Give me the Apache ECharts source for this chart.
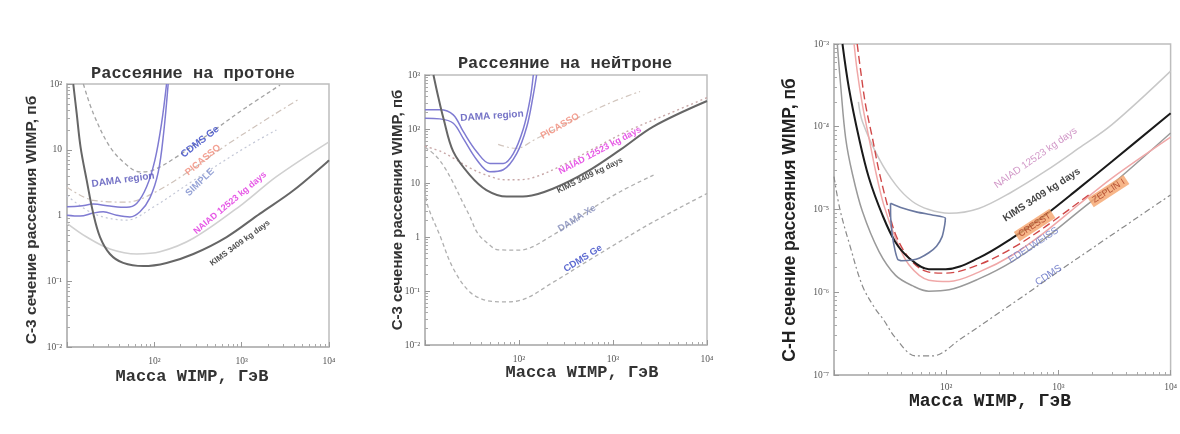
<!DOCTYPE html>
<html><head><meta charset="utf-8">
<script src="https://cdn.jsdelivr.net/npm/echarts@6/dist/echarts.min.js"></script>
<style>html,body{margin:0;padding:0;background:#fff}#c{width:1180px;height:434px}</style>
</head><body><div id="c"></div><script>
// ---------- tick labels ----------
const X_TICK_LABELS = ['', '10²', '10³', '10⁴'];                 // exponents 1..4
const P1_Y_TICK_LABELS = ['10⁻²', '10⁻¹', '1', '10', '10²'];      // -2..2
const P2_Y_TICK_LABELS = ['10⁻²', '10⁻¹', '1', '10', '10²', '10³']; // -2..3
const P3_Y_TICK_LABELS = ['10⁻⁷', '10⁻⁶', '10⁻⁵', '10⁻⁴', '10⁻³']; // -7..-3

// ---------- panel 1: scattering on proton [mass GeV, cross-section pb] ----------
const P1_KIMS = [[11.8,100],[12.9,36],[14.3,11],[16.8,3.45],[20,1.07],[23.9,0.47],[31,0.26],[44,0.19],[75,0.17],[138,0.19],[280,0.26],[673,0.47],[1622,1.07],[3900,2.4],[10000,6.9]];
const P1_NAIAD = [[10,0.76],[16.8,0.47],[31,0.31],[63,0.26],[116,0.28],[280,0.45],[1040,1.52],[2500,3.9],[10000,13.2]];
const P1_CDMS_GE = [[15.4,100],[20,35.7],[31,11.1],[48,5.9],[68,4.6],[97,4.9],[180,7.8],[430,17.7],[1150,45],[2750,96]];
const P1_PICASSO = [[10,2.7],[20,1.7],[48,1.6],[98,2.2],[280,5.2],[670,11.8],[2300,33.7],[4650,60]];
const P1_SIMPLE = [[10,2.0],[20,1.07],[48,0.85],[98,1.35],[280,3.4],[1140,11.1],[2500,20]];
const P1_DAMA_A = [[10,1.36],[14.1,1.39],[20,1.49],[31,1.39],[48,1.33],[62.7,1.52],[81.6,2.73],[101.5,6.96],[121,25.2],[138,100]];
const P1_DAMA_B = [[10,1.01],[14.1,0.98],[20,1.09],[26,1.14],[37,1.01],[52.5,0.95],[68.5,1.14],[89,1.85],[111,4.6],[128,18.3],[144,100]];
const P1_LABEL_TEXT = ['CDMS Ge', 'PICASSO', 'SIMPLE', 'DAMA region', 'NAIAD 12523 kg days', 'KIMS 3409 kg days'];
const P1_LABEL_AT = [[334,13.2],[361,7.0],[333,3.2],[43.8,3.47],[736,1.55],[957,0.38]];

// ---------- panel 2: scattering on neutron ----------
const P2_KIMS = [[12.3,1000],[13.8,400],[15.7,158],[20,38],[30,14],[45,7.4],[74,5.6],[121,5.7],[232,7.9],[524,16],[1190,41],[2680,111],[10000,330]];
const P2_NAIAD = [[10,48],[15,38],[20,29],[30,19],[45,14],[70,11.5],[100,11.5],[150,13],[300,22],[600,42],[1500,95],[4000,195],[10000,380]];
const P2_PICASSO = [[60,52],[80,45],[94.5,44],[150,65],[349,138],[1000,320],[1940,496]];
const P2_DAMA_XE = [[10,46],[13,32],[16,20],[20,10],[25,4.5],[30,2.4],[36,1.2],[45,0.8],[60,0.58],[100,0.57],[232,1.1],[525,2.9],[1190,6.9],[2700,14]];
const P2_CDMS_GE = [[10,10],[10.4,4.5],[14.4,1.07],[20,0.26],[30,0.096],[45,0.067],[68,0.063],[103,0.067],[232,0.146],[525,0.35],[1190,0.83],[2680,1.9],[10000,6.4]];
const P2_DAMA_A = [[10,227],[14.4,227],[20,183],[25.5,90],[35.5,38],[49,23],[68,23],[87,35],[111,100],[131,350],[142,1000]];
const P2_DAMA_B = [[10,158],[14.4,154],[20,128],[25.5,67],[35.5,27],[49,16.2],[68,17.6],[94.5,35],[121,110],[142,430],[154,1000]];
const P2_LABEL_TEXT = ['DAMA region', 'PICASSO', 'NAIAD 12523 kg days', 'KIMS 3409 kg days', 'DAMA Xe', 'CDMS Ge'];
const P2_LABEL_AT = [[51.6,173],[273,113],[728,40],[569,13.8],[414,2.2],[479,0.4]];

// ---------- panel 3: spin-independent ----------
const P3_KIMS = [[11.9,1e-3],[13.6,2.9e-4],[16.7,7.3e-5],[20.5,2.4e-5],[27,8.6e-6],[35,4.1e-6],[46.5,2.6e-6],[70,1.9e-6],[99,1.9e-6],[195,2.6e-6],[387,4.5e-6],[766,8.6e-6],[1520,1.8e-5],[3000,3.8e-5],[10000,1.46e-4]];
const P3_NAIAD = [[16.5,2.0e-4],[17.9,1.16e-4],[25,4.2e-5],[35.4,2.0e-5],[50,1.25e-5],[70,1.0e-5],[106,9.0e-6],[195,1.03e-5],[387,1.64e-5],[766,2.9e-5],[1520,5.5e-5],[3000,1.06e-4],[10000,4.7e-4]];
const P3_ZEPLIN = [[16.1,1e-3],[17.3,4.7e-4],[19.1,1.85e-4],[22,7.3e-5],[25.2,2.9e-5],[29.9,1.13e-5],[35.4,5.0e-6],[46.5,2.6e-6],[65.5,1.8e-6],[98,1.7e-6],[195,2.15e-6],[387,3.4e-6],[766,6.2e-6],[1860,1.5e-5]];
const P3_CRESST = [[15.1,1e-3],[16.1,4.7e-4],[17.9,1.85e-4],[20.5,7.3e-5],[23.5,2.9e-5],[27.8,1.13e-5],[35.4,4.5e-6],[46.5,2.15e-6],[70,1.4e-6],[106,1.35e-6],[195,1.75e-6],[387,2.8e-6],[766,5.4e-6],[1520,1.15e-5],[3000,2.4e-5],[10000,7.5e-5]];
const P3_EDELWEISS = [[10.7,1e-3],[11.5,3e-4],[12.7,7.3e-5],[14.5,2.8e-5],[17.9,9.5e-6],[25.2,3.1e-6],[35.4,1.6e-6],[50,1.2e-6],[70,1.03e-6],[106,1.07e-6],[195,1.45e-6],[387,2.35e-6],[766,4.5e-6],[1520,9.5e-6],[3000,2.0e-5],[10000,8.4e-5]];
const P3_CDMS = [[10,2.5e-5],[11.3,1e-5],[14,3.5e-6],[17.9,1.2e-6],[23,6.5e-7],[27.8,4.6e-7],[35.4,2.8e-7],[53.6,1.7e-7],[75,1.7e-7],[138,2.8e-7],[276,5.3e-7],[545,1.0e-6],[1070,1.9e-6],[2130,3.6e-6],[10000,1.5e-5]];
const P3_DAMA = [[31.9,1.19e-5],[40,1.05e-5],[55,9.3e-6],[75,8.6e-6],[98.3,7.9e-6],[97,6.5e-6],[92,4.7e-6],[82,3.6e-6],[70,3.0e-6],[58,2.6e-6],[49.8,2.45e-6],[40,2.4e-6],[37,2.5e-6],[35,3.2e-6],[33,5e-6],[32,8e-6],[31.9,1.19e-5]];
const P3_LABEL_TEXT = ['NAIAD 12523 kg days', 'KIMS 3409 kg days', 'CRESST', 'EDELWEISS', 'ZEPLIN I', 'CDMS'];
const P3_LABEL_AT = [[627,4.2e-5],[709,1.5e-5],[614,6.5e-6],[600,3.7e-6],[2800,1.67e-5],[818,1.6e-6]];

// ---------- texts ----------
const TITLES = ['Рассеяние на протоне', 'Рассеяние на нейтроне'];
const X_NAME = 'Масса WIMP, ГэВ';
const Y_NAMES = ['С-3 сечение рассеяния WIMP, пб', 'С-3 сечение рассеяния WIMP, пб', 'С-Н сечение рассеяния WIMP, пб'];

// ---------- build ----------
const exp10 = v => Math.round(Math.log10(v));
function xAxis(i, margin) {
  return {
    type: 'log', logBase: 10, gridIndex: i, min: 10, max: 10000,
    axisLine: { show: true, lineStyle: { color: '#b4b4b4', width: 1.5 } },
    axisTick: { show: true, inside: true, length: 5, lineStyle: { color: '#999' } },
    minorTick: { show: true, splitNumber: 9, length: 3, lineStyle: { color: '#aaa' } },
    splitLine: { show: false },
    axisLabel: { margin: margin, fontSize: 9.5, color: '#555', fontFamily: 'Liberation Serif',
      formatter: v => X_TICK_LABELS[exp10(v) - 1] }
  };
}
function yAxis(i, min, max, labels, minExp) {
  return {
    type: 'log', logBase: 10, gridIndex: i, min: min, max: max,
    axisLine: { show: true, lineStyle: { color: '#b4b4b4', width: 1.5 } },
    axisTick: { show: true, inside: true, length: 5, lineStyle: { color: '#999' } },
    minorTick: { show: true, splitNumber: 9, length: 3, lineStyle: { color: '#aaa' } },
    splitLine: { show: false },
    axisLabel: { margin: 5, fontSize: 9.5, color: '#555', fontFamily: 'Liberation Serif',
      formatter: v => labels[exp10(v) - minExp] }
  };
}
function line(i, data, color, width, type, z) {
  return { type: 'line', xAxisIndex: i, yAxisIndex: i, data: data, showSymbol: false, symbol: 'none',
    smooth: 0.35, clip: true, z: z || 2, silent: true,
    lineStyle: { color: color, width: width, type: type || 'solid' } };
}
function labels(i, at, texts, styles) {
  return { type: 'scatter', xAxisIndex: i, yAxisIndex: i, symbolSize: 0, silent: true, z: 10,
    data: at.map((p, k) => ({ value: p, label: Object.assign({ show: true, position: 'inside',
      formatter: texts[k], fontFamily: 'Liberation Sans' }, styles[k]) })) };
}
const P1_LABEL_STYLE = [
  { color: '#3445c4', fontSize: 10, fontWeight: 'bold', rotate: 38 },
  { color: '#f08a78', fontSize: 9.5, fontWeight: 'bold', rotate: 40 },
  { color: '#7c8ccc', fontSize: 9.5, fontWeight: 'bold', rotate: 44 },
  { color: '#5350b8', fontSize: 10, fontWeight: 'bold', rotate: 8 },
  { color: '#e030e0', fontSize: 9, fontWeight: 'bold', rotate: 40 },
  { color: '#222', fontSize: 8, fontWeight: 'bold', rotate: 36 }
];
const P2_LABEL_STYLE = [
  { color: '#5350b8', fontSize: 10, fontWeight: 'bold', rotate: 4 },
  { color: '#f08a78', fontSize: 9.5, fontWeight: 'bold', rotate: 30 },
  { color: '#e030e0', fontSize: 9, fontWeight: 'bold', rotate: 28 },
  { color: '#222', fontSize: 8, fontWeight: 'bold', rotate: 26 },
  { color: '#8088b8', fontSize: 9.5, fontWeight: 'bold', rotate: 32 },
  { color: '#3445c4', fontSize: 9.5, fontWeight: 'bold', rotate: 32 }
];
const P3_LABEL_STYLE = [
  { color: '#c47ab8', fontSize: 10, rotate: 35 },
  { color: '#111', fontSize: 10, fontWeight: 'bold', rotate: 33 },
  { color: '#a83a20', fontSize: 9, rotate: 33, backgroundColor: '#f5a46c', padding: [1, 3] },
  { color: '#6a78c8', fontSize: 10, rotate: 33 },
  { color: '#a83a20', fontSize: 9, rotate: 33, backgroundColor: '#f5a46c', padding: [1, 3] },
  { color: '#5a68c0', fontSize: 10, rotate: 33 }
];

const gridStyle = { show: true, borderColor: '#bdbdbd', borderWidth: 1.5, backgroundColor: '#fff' };
const option = {
  backgroundColor: '#fff',
  animation: false,
  grid: [
    Object.assign({ left: 67, top: 84, width: 262, height: 263 }, gridStyle),
    Object.assign({ left: 425, top: 75, width: 282, height: 270 }, gridStyle),
    Object.assign({ left: 834, top: 44, width: 337, height: 331 }, gridStyle)
  ],
  xAxis: [xAxis(0, 9), xAxis(1, 9), xAxis(2, 7)],
  yAxis: [yAxis(0, 0.01, 100, P1_Y_TICK_LABELS, -2), yAxis(1, 0.01, 1000, P2_Y_TICK_LABELS, -2), yAxis(2, 1e-7, 1e-3, P3_Y_TICK_LABELS, -7)],
  series: [
    line(0, P1_SIMPLE, '#c3c7d6', 1.2, [2, 3]),
    line(0, P1_PICASSO, '#cfc3bb', 1.2, [6, 3, 2, 3]),
    line(0, P1_CDMS_GE, '#a4a4a4', 1.3, [4, 3]),
    line(0, P1_NAIAD, '#d0d0d0', 1.6),
    line(0, P1_DAMA_A, '#7f7bd2', 1.5, 'solid', 3),
    line(0, P1_DAMA_B, '#7f7bd2', 1.5, 'solid', 3),
    line(0, P1_KIMS, '#666', 2, 'solid', 4),
    labels(0, P1_LABEL_AT, P1_LABEL_TEXT, P1_LABEL_STYLE),

    line(1, P2_CDMS_GE, '#b0b0b0', 1.3, [4, 3]),
    line(1, P2_DAMA_XE, '#b0b0b0', 1.3, [4, 3]),
    line(1, P2_PICASSO, '#d2c6be', 1.2, [6, 3, 2, 3]),
    line(1, P2_NAIAD, '#c8a8a8', 1.4, [2, 3]),
    line(1, P2_DAMA_A, '#7f7bd2', 1.5, 'solid', 3),
    line(1, P2_DAMA_B, '#7f7bd2', 1.5, 'solid', 3),
    line(1, P2_KIMS, '#666', 2, 'solid', 4),
    labels(1, P2_LABEL_AT, P2_LABEL_TEXT, P2_LABEL_STYLE),

    line(2, P3_CDMS, '#8a8a8a', 1.2, [6, 3, 2, 3]),
    line(2, P3_NAIAD, '#c8c8c8', 1.5),
    line(2, P3_EDELWEISS, '#9a9a9a', 1.5),
    line(2, P3_CRESST, '#f0a8a8', 1.5),
    line(2, P3_ZEPLIN, '#d04848', 1.4, [8, 4]),
    Object.assign(line(2, P3_DAMA, '#6a78a0', 1.6, 'solid', 5), { smooth: 0.2 }),
    line(2, P3_KIMS, '#1a1a1a', 2, 'solid', 4),
    labels(2, P3_LABEL_AT, P3_LABEL_TEXT, P3_LABEL_STYLE)
  ],
  graphic: [
    { type: 'text', x: 193, y: 74, style: { text: TITLES[0], font: 'bold 17px "Liberation Mono"', fill: '#333', align: 'center', verticalAlign: 'middle' } },
    { type: 'text', x: 565, y: 64, style: { text: TITLES[1], font: 'bold 17px "Liberation Mono"', fill: '#333', align: 'center', verticalAlign: 'middle' } },
    { type: 'text', x: 192, y: 377, style: { text: X_NAME, font: 'bold 17px "Liberation Mono"', fill: '#333', align: 'center', verticalAlign: 'middle' } },
    { type: 'text', x: 582, y: 373, style: { text: X_NAME, font: 'bold 17px "Liberation Mono"', fill: '#333', align: 'center', verticalAlign: 'middle' } },
    { type: 'text', x: 990, y: 401, style: { text: X_NAME, font: 'bold 18px "Liberation Mono"', fill: '#222', align: 'center', verticalAlign: 'middle' } },
    { type: 'text', x: 32, y: 220, rotation: Math.PI / 2, style: { text: Y_NAMES[0], font: 'bold 15.5px "Liberation Sans"', fill: '#333', align: 'center', verticalAlign: 'middle' } },
    { type: 'text', x: 398, y: 210, rotation: Math.PI / 2, style: { text: Y_NAMES[1], font: 'bold 15px "Liberation Sans"', fill: '#333', align: 'center', verticalAlign: 'middle' } },
    { type: 'text', x: 790, y: 220, rotation: Math.PI / 2, style: { text: Y_NAMES[2], font: 'bold 17.5px "Liberation Sans"', fill: '#222', align: 'center', verticalAlign: 'middle' } }
  ]
};
echarts.init(document.getElementById('c'), null, { renderer: 'canvas' }).setOption(option);
</script></body></html>
